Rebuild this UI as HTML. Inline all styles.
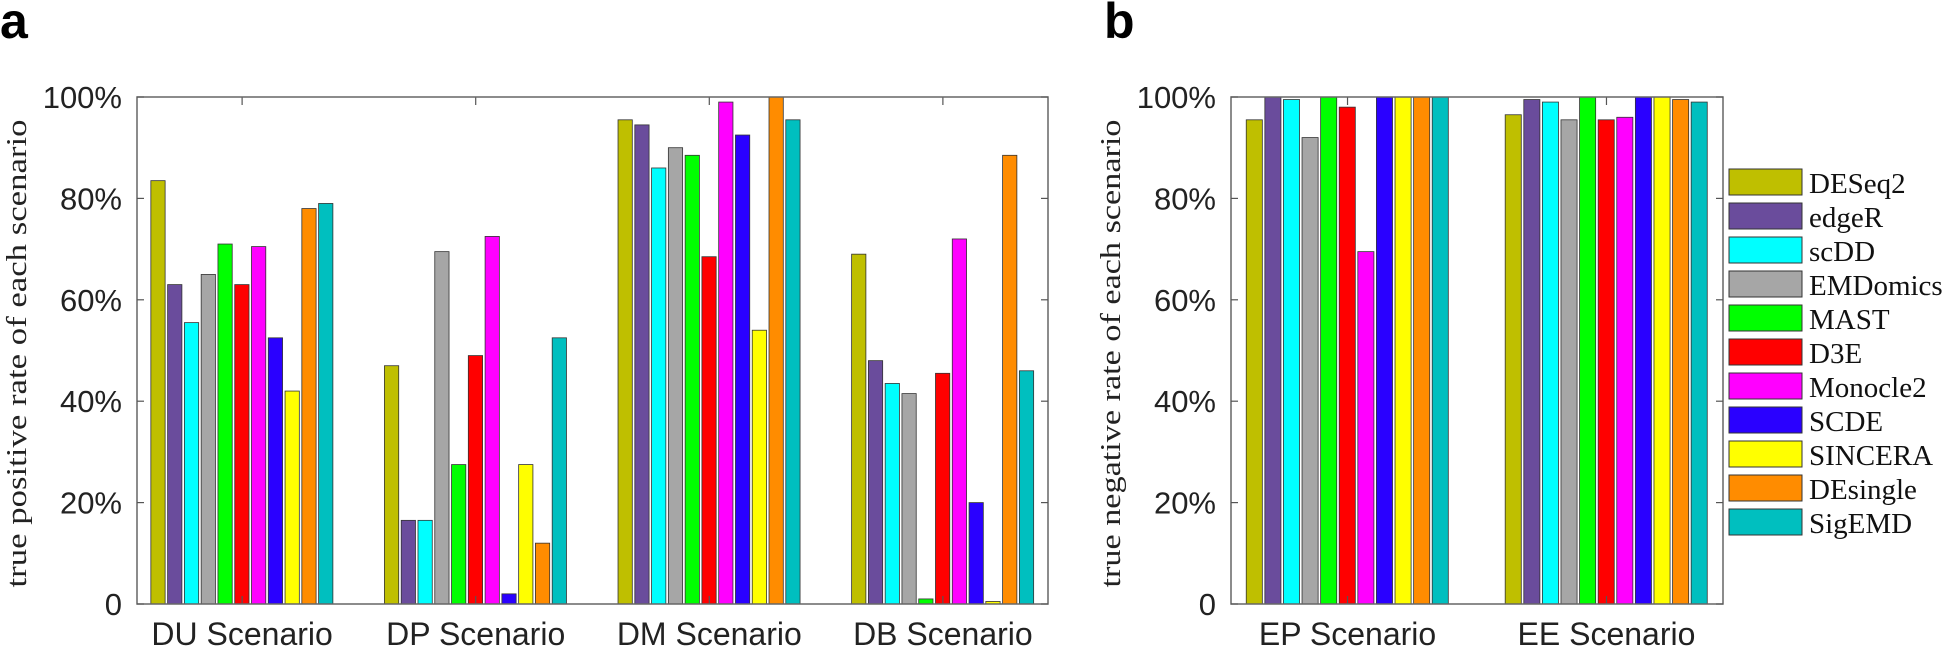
<!DOCTYPE html>
<html><head><meta charset="utf-8"><style>
body{margin:0;background:#fff;}
svg{display:block;}
.tick{font-family:"Liberation Sans",sans-serif;font-size:31px;fill:#222;}
.xt{font-family:"Liberation Sans",sans-serif;font-size:32px;fill:#222;}
.ttl{font-family:"Liberation Serif",serif;font-size:29px;fill:#222;}
.leg{font-family:"Liberation Serif",serif;font-size:29px;fill:#111;}
.pl{font-family:"Liberation Sans",sans-serif;font-size:50px;font-weight:bold;}
</style></head><body>
<svg id="chart" width="1946" height="649" xmlns="http://www.w3.org/2000/svg"></svg>
<script>
const methods=["DESeq2","edgeR","scDD","EMDomics","MAST","D3E","Monocle2","SCDE","SINCERA","DEsingle","SigEMD"];
const colors=["#bfbf00","#6a4c9c","#00ffff","#a6a6a6","#00ff00","#ff0000","#ff00ff","#2a00ff","#ffff00","#ff8c00","#00bfbf"];
const catsA=["DU Scenario","DP Scenario","DM Scenario","DB Scenario"];
const valsDU=[83.5,63,55.5,65,71,63,70.5,52.5,42,78,79];
const valsDP=[47,16.5,16.5,69.5,27.5,49,72.5,2,27.5,12,52.5];
const valsDM=[95.5,94.5,86,90,88.5,68.5,99,92.5,54,100,95.5];
const valsDB=[69,48,43.5,41.5,1,45.5,72,20,0.5,88.5,46];
const catsB=["EP Scenario","EE Scenario"];
const valsEP=[95.5,100,99.5,92,100,98,69.5,100,100,100,100];
const valsEE=[96.5,99.5,99,95.5,100,95.5,96,100,100,99.5,99];
const yTicks=[0,20,40,60,80,100];
const yTickLabels=["0","20%","40%","60%","80%","100%"];

const svg=document.getElementById('chart');
const NS="http://www.w3.org/2000/svg";
function mk(tag,attrs,parent){const e=document.createElementNS(NS,tag);for(const k in attrs)e.setAttribute(k,attrs[k]);(parent||svg).appendChild(e);return e;}

function panel(name,x0,x1,y0,y1,cats,series,title){
  const g=mk('g',{});
  
  
  const n=cats.length;
  const xs=c=>x0+(c+1-0.55)/(n-0.1)*(x1-x0);
  const ys=v=>y1-v/100*(y1-y0);
  const unit=(x1-x0)/(n-0.1);
  const gw=unit*0.79, bw=gw/11;
  series.forEach((vals,ci)=>{
    vals.forEach((v,mi)=>{
      const bx=xs(ci)-gw/2+mi*bw+1;
      const r=mk('rect',{x:bx,y:ys(v),width:bw-2.5,height:ys(0)-ys(v),fill:colors[mi],stroke:'#333','stroke-width':0.8},g);
      
      
    });
    const t=mk('text',{x:xs(ci),y:y1+41,'text-anchor':'middle',class:'xt'},g);
    t.textContent=cats[ci];
    
    
    mk('line',{x1:xs(ci),x2:xs(ci),y1:y1,y2:y1-8,stroke:'#555','stroke-width':1.2},g);
    mk('line',{x1:xs(ci),x2:xs(ci),y1:y0,y2:y0+8,stroke:'#555','stroke-width':1.2},g);
  });
  mk('rect',{x:x0,y:y0,width:x1-x0,height:y1-y0,fill:'none',stroke:'#666','stroke-width':1.5},g);
  yTicks.forEach((v,i)=>{
    mk('line',{x1:x0,x2:x0+7,y1:ys(v),y2:ys(v),stroke:'#555','stroke-width':1.2},g);
    mk('line',{x1:x1,x2:x1-7,y1:ys(v),y2:ys(v),stroke:'#555','stroke-width':1.2},g);
    const t=mk('text',{x:x0-15,y:ys(v)+11,'text-anchor':'end',class:'tick'},g);
    t.textContent=yTickLabels[i];
    
    
  });
  const cx=x0-111, cy=(y0+y1)/2+3;
  const tt=mk('text',{x:cx,y:cy,'text-anchor':'middle',class:'ttl',textLength:468,lengthAdjust:'spacingAndGlyphs',transform:`rotate(-90 ${cx} ${cy})`},g);
  tt.textContent=title;
  
  
}
panel('panel-a',137,1048,97,604,catsA,[valsDU,valsDP,valsDM,valsDB],'true positive rate of each scenario');
panel('panel-b',1231,1723,97,604,catsB,[valsEP,valsEE],'true negative rate of each scenario');

const la=mk('text',{x:0,y:38,class:'pl'});la.textContent='a';


const lb=mk('text',{x:1104,y:38,class:'pl'});lb.textContent='b';



const lg=mk('g',{});


methods.forEach((m,i)=>{
  const y=169+i*34;
  const e=mk('g',{},lg);
  
  
  mk('rect',{x:1729,y:y,width:73,height:26,fill:colors[i],stroke:'#333','stroke-width':1},e);
  const t=mk('text',{x:1809,y:y+24,class:'leg'},e);t.textContent=m;
});
</script>
</body></html>
